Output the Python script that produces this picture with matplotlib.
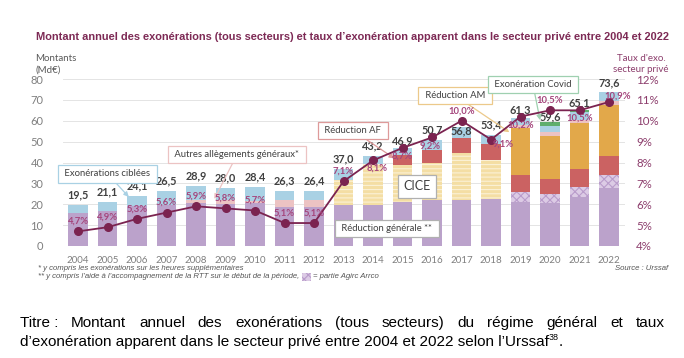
import numpy as np
import matplotlib.pyplot as plt
from matplotlib.patches import Rectangle

plt.rcParams['hatch.linewidth'] = 0.8

# ---- data (Md€ and %) ----
years = [str(y) for y in range(2004, 2023)]
totals = [19.5, 21.1, 24.1, 26.5, 28.9, 28.0, 28.4, 26.3, 26.4, 37.0,
          43.2, 46.9, 50.7, 56.8, 53.4, 61.3, 59.6, 65.1, 73.6]
taux = [4.7, 4.9, 5.3, 5.6, 5.9, 5.8, 5.7, 5.1, 5.1, 7.1,
        8.1, 8.7, 9.2, 10.0, 9.1, 10.2, 10.5, 10.5, 10.9]

reduc_gen = [16.0, 16.8, 19.4, 19.7, 20.5, 20.2, 20.5, 18.9, 18.9, 19.7,
             19.7, 21.3, 22.1, 22.1, 22.6, 21.3, 20.5, 23.4, 27.7]
agirc = [0, 0, 0, 0, 0, 0, 0, 0, 0, 0,
         0, 0, 0, 0, 0, 4.8, 4.3, 5.1, 6.4]
cice = [0, 0, 0, 0, 0, 0, 0, 0, 0, 12.0,
        19.7, 17.6, 17.6, 22.5, 18.7, 0, 0, 0, 0]
reduc_af = [0, 0, 0, 0, 0, 0, 0, 0, 0, 0,
            0, 4.8, 6.5, 7.2, 7.7, 8.0, 7.4, 8.4, 8.9]
reduc_am = [0, 0, 0, 0, 0, 0, 0, 0, 0, 0,
            0, 0, 0, 0, 0, 22.5, 20.4, 21.9, 24.5]
autres = [0, 0, 0, 0, 1.6, 1.6, 1.0, 3.2, 3.2, 0,
          0, 0, 0, 0, 0, 1.6, 1.9, 1.7, 2.0]
ciblees = [3.5, 4.3, 4.7, 6.8, 6.8, 6.2, 6.9, 4.2, 4.3, 5.3,
           3.8, 3.2, 4.5, 5.0, 4.4, 3.1, 3.0, 3.8, 4.1]
covid = [0, 0, 0, 0, 0, 0, 0, 0, 0, 0,
         0, 0, 0, 0, 0, 0, 2.1, 0.8, 0]

# label nudges in pixels (total label above bar top, % label from point)
tot_dy = {2015: 7, 2017: -3, 2019: 8, 2020: 5, 2021: 7}
pct_off = {2014: (4, -8), 2015: (0, -8), 2016: (-2, -9), 2018: (12, -5),
           2019: (0, -9), 2021: (0, -8), 2022: (9, 6)}

PURPLE = '#bba2cb'
LINE = '#7b2350'
PCT = '#a5457c'
CHART_FONT = ['Lato', 'DejaVu Sans']
ARIAL = ['Liberation Sans', 'DejaVu Sans']

fig = plt.figure(figsize=(6.84, 3.58), dpi=100)
ax = fig.add_axes([63 / 684, 1 - 246 / 358, 562 / 684, 167 / 358])
x = np.arange(len(years))
w = 0.65

layers = [
    (reduc_gen, dict(color=PURPLE)),
    (agirc, dict(facecolor='#dccbe5', edgecolor='#b99ccb', hatch='xxxx', lw=0)),
    (cice, dict(facecolor='#f4dea4', edgecolor='#fbf1d6', hatch='----', lw=0)),
    (reduc_af, dict(color='#cb6262')),
    (reduc_am, dict(color='#e2a84a')),
    (autres, dict(color='#ecc3c3')),
    (ciblees, dict(color='#a9d1e4')),
    (covid, dict(color='#5fae6d')),
]
bottom = np.zeros(len(years))
for vals, style in layers:
    ax.bar(x, vals, w, bottom=bottom, **style)
    bottom += np.array(vals)

ax.set_ylim(0, 80)
ax.set_xlim(-0.51, len(years) - 0.46)
ax.set_yticks(range(0, 90, 10))
ax.grid(axis='y', color='#e4e4e4', lw=0.7)
ax.set_axisbelow(True)
for s in ax.spines.values():
    s.set_visible(False)
ax.set_xticks(x)
ax.set_xticklabels(years, fontsize=7, color='#7f7f7f', family=CHART_FONT)
ax.tick_params(length=0, pad=7)
ax.tick_params(axis='y', pad=14)
for lab in ax.get_yticklabels():
    lab.set_fontsize(8)
    lab.set_color('#7f7f7f')
    lab.set_family(CHART_FONT)

for i, (top, t) in enumerate(zip(bottom, totals)):
    dy = tot_dy.get(int(years[i]), 10)
    ax.annotate(f'{t:.1f}'.replace('.', ','), (x[i], top), xytext=(0, dy * 0.72),
                textcoords='offset points', ha='center', va='center',
                fontsize=7.8, fontweight='bold', color='#404040', family=CHART_FONT)

ax2 = ax.twinx()
ax2.set_ylim(4, 12)
ax2.set_yticks(range(4, 13))
ax2.set_yticklabels([f'{v}%' for v in range(4, 13)])
ax2.tick_params(length=0, pad=8)
for lab in ax2.get_yticklabels():
    lab.set_fontsize(8.3)
    lab.set_color('#8c3d6c')
    lab.set_family(CHART_FONT)
for s in ax2.spines.values():
    s.set_visible(False)
ax2.plot(x, taux, color=LINE, lw=1.3, marker='o', ms=5.5, zorder=5)
for i, t in enumerate(taux):
    dx, dy = pct_off.get(int(years[i]), (0, 10))
    ax2.annotate(f'{t:.1f}%'.replace('.', ','), (x[i], t), xytext=(dx * 0.72, dy * 0.72),
                 textcoords='offset points', ha='center', va='center',
                 fontsize=6.8, fontweight='bold', color=PCT, family=CHART_FONT, zorder=6)

# callout boxes
def callout(text, xy_text, xy=None, ec='#999999', size=6.8):
    box = dict(boxstyle='square,pad=0.45', fc='white', ec=ec, lw=0.9)
    arrow = None
    if xy is not None:
        arrow = dict(arrowstyle='-|>', color=ec, lw=0.9, mutation_scale=7,
                     shrinkA=0, shrinkB=0)
    ax.annotate(text, xy=xy if xy is not None else xy_text, xytext=xy_text,
                ha='center', va='center', fontsize=size, color='#404040',
                family=CHART_FONT, bbox=box, arrowprops=arrow, zorder=10)

callout(' Exonérations ciblées ', (1.0, 34.6), (1.72, 23.5), ec='#a9d1e4')
callout(' Autres allègements généraux* ', (5.39, 43.8), (4.62, 22.5), ec='#ecc3c3')
callout(' Réduction AF ', (9.32, 55.3), (10.72, 42.0), ec='#de9a9a')
callout('CICE', (11.49, 28.6), ec='#b0b0b0', size=9)
callout(' Réduction générale ** ', (10.47, 8.4), ec='#b0b0b0')
callout(' Réduction AM ', (12.78, 72.1), (14.62, 54.5), ec='#ecc98a')
callout(' Exonération Covid ', (15.42, 77.4), (15.66, 60.3), ec='#9fd0b0')

# titles
fig.text(352 / 684, 1 - 37 / 358, "Montant annuel des exonérations (tous secteurs) et taux "
         "d’exonération apparent dans le secteur privé entre 2004 et 2022",
         ha='center', va='center', fontsize=7.9, fontweight='bold', color='#7d2a55',
         family=ARIAL)
fig.text(35 / 684, 1 - 64 / 358, 'Montants\n(Md€)', ha='left', va='center',
         fontsize=7, color='#595959', family=CHART_FONT, linespacing=1.4)
fig.text(641 / 684, 1 - 64 / 358, "Taux d'exo.\nsecteur privé", ha='center', va='center',
         fontsize=7, color='#8c3d6c', family=CHART_FONT, linespacing=1.4)

# footnotes
foot = dict(fontsize=5.6, style='italic', color='#555555', family=ARIAL, va='center')
fig.text(38 / 684, 1 - 268 / 358, '* y compris les exonérations sur les heures supplémentaires', **foot)
fig.text(668 / 684, 1 - 268 / 358, 'Source : Urssaf', ha='right', **foot)
t1 = fig.text(38 / 684, 1 - 277 / 358,
              "** y compris l’aide à l’accompagnement de la RTT sur le début de la période, ", **foot)
r = fig.canvas.get_renderer()
xe = t1.get_window_extent(r).x1
fig.patches.append(Rectangle((xe + 1, 358 - 281), 9, 8, transform=None,
                             facecolor='#dccbe5', edgecolor='#b99ccb', hatch='xxxx', lw=0))
fig.text((xe + 12) / 684, 1 - 277 / 358, '= partie Agirc Arrco', **foot)

# caption below the chart, first line justified
cap = dict(fontsize=11, color='black', family=ARIAL, va='center')
words = ['Titre\u00a0:'] + 'Montant annuel des exonérations (tous secteurs) du régime général et taux'.split(' ')
ts = [fig.text(0, 1 - 323 / 358, wd, **cap) for wd in words]
ws = [t.get_window_extent(r).width for t in ts]
x0, x1 = 20, 665
gap = (x1 - x0 - sum(ws)) / (len(words) - 1)
pos = x0
for t, wd in zip(ts, ws):
    t.set_x(pos / 684)
    pos += wd + gap
t2 = fig.text(20 / 684, 1 - 342 / 358,
              'd’exonération apparent dans le secteur privé entre 2004 et 2022 selon l’Urssaf', **cap)
xe = t2.get_window_extent(r).x1
t3 = fig.text(xe / 684, 1 - 338 / 358, '38', fontsize=6.5, family=ARIAL, va='center')
xe = t3.get_window_extent(r).x1
fig.text(xe / 684, 1 - 342 / 358, '.', **cap)

fig.savefig('out.png', dpi=100)
